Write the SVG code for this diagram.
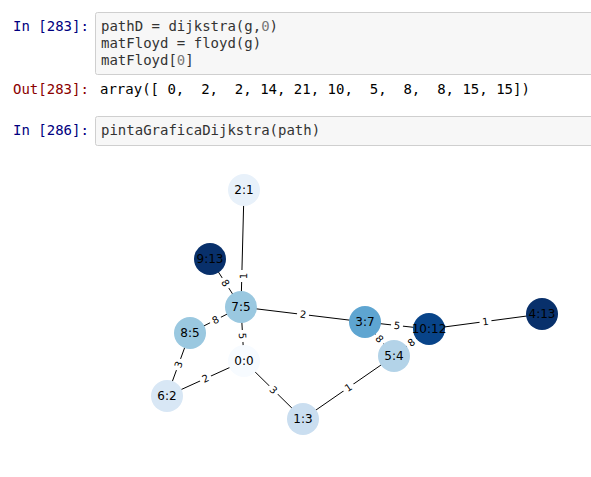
<svg xmlns="http://www.w3.org/2000/svg" width="591" height="477" viewBox="0 0 591 477">
<style>
.mono{font-family:"DejaVu Sans Mono","Liberation Mono",monospace;font-size:14px}
.pin{fill:#000080}
.pout{fill:#8b0000}
.code{fill:#333}
.num{fill:#777}
.box{fill:#f7f7f7;stroke:#cfcfcf;stroke-width:1}
.edge{stroke:#000;stroke-width:1;fill:none}
.nl{font-family:"DejaVu Sans",sans-serif;font-size:12px;fill:#000;text-anchor:middle;dominant-baseline:central}
.el{font-family:"DejaVu Sans",sans-serif;font-size:10px;fill:#000;text-anchor:middle;dominant-baseline:central}
.eb{fill:#fff}
</style>
<rect width="591" height="477" fill="#fff"/>
<g id="cell1">
<text class="mono pin" x="13" y="31">In [283]:</text>
<rect class="box" x="95.5" y="12.5" width="510" height="62" rx="2"/>
<text class="mono code" x="101" y="31">pathD = dijkstra(g,<tspan class="num">0</tspan>)</text>
<text class="mono code" x="101" y="48">matFloyd = floyd(g)</text>
<text class="mono code" x="101" y="65">matFloyd[<tspan class="num">0</tspan>]</text>
</g>
<g id="out1">
<text class="mono pout" x="13" y="94">Out[283]:</text>
<text class="mono" x="100" y="94" fill="#000" xml:space="preserve">array([ 0,  2,  2, 14, 21, 10,  5,  8,  8, 15, 15])</text>
</g>
<g id="cell2">
<text class="mono pin" x="13" y="135">In [286]:</text>
<rect class="box" x="95.5" y="116.5" width="510" height="29" rx="2"/>
<text class="mono code" x="101" y="135">pintaGraficaDijkstra(path)</text>
</g>
<g id="edges">
<line class="edge" x1="244" y1="190" x2="241" y2="307"/>
<line class="edge" x1="210" y1="259" x2="241" y2="307"/>
<line class="edge" x1="241" y1="307" x2="190" y2="333"/>
<line class="edge" x1="241" y1="307" x2="244" y2="361"/>
<line class="edge" x1="241" y1="307" x2="365" y2="322"/>
<line class="edge" x1="190" y1="333" x2="167" y2="396"/>
<line class="edge" x1="167" y1="396" x2="244" y2="361"/>
<line class="edge" x1="244" y1="361" x2="303" y2="419"/>
<line class="edge" x1="303" y1="419" x2="394" y2="356"/>
<line class="edge" x1="365" y1="322" x2="429" y2="329"/>
<line class="edge" x1="365" y1="322" x2="394" y2="356"/>
<line class="edge" x1="394" y1="356" x2="429" y2="329"/>
<line class="edge" x1="429" y1="329" x2="542" y2="314"/>
<g transform="translate(243.5,276) rotate(-88.5)"><rect class="eb" x="-6" y="-7" width="12" height="14" rx="3"/><text class="el">1</text></g>
<g transform="translate(225.5,283) rotate(57)"><rect class="eb" x="-6" y="-7" width="12" height="14" rx="3"/><text class="el">8</text></g>
<g transform="translate(215.5,320) rotate(-27)"><rect class="eb" x="-6" y="-7" width="12" height="14" rx="3"/><text class="el">8</text></g>
<g transform="translate(242.5,336) rotate(86.8)"><rect class="eb" x="-6" y="-7" width="12" height="14" rx="3"/><text class="el">5</text></g>
<g transform="translate(303,314.5) rotate(6.9)"><rect class="eb" x="-6" y="-7" width="12" height="14" rx="3"/><text class="el">2</text></g>
<g transform="translate(178.5,364.5) rotate(-70)"><rect class="eb" x="-6" y="-7" width="12" height="14" rx="3"/><text class="el">3</text></g>
<g transform="translate(205.5,378.5) rotate(-24.4)"><rect class="eb" x="-6" y="-7" width="12" height="14" rx="3"/><text class="el">2</text></g>
<g transform="translate(273.5,390) rotate(44.5)"><rect class="eb" x="-6" y="-7" width="12" height="14" rx="3"/><text class="el">3</text></g>
<g transform="translate(348.5,387.5) rotate(-34.7)"><rect class="eb" x="-6" y="-7" width="12" height="14" rx="3"/><text class="el">1</text></g>
<g transform="translate(397,325.5) rotate(6.2)"><rect class="eb" x="-6" y="-7" width="12" height="14" rx="3"/><text class="el">5</text></g>
<g transform="translate(379.5,339) rotate(49.5)"><rect class="eb" x="-6" y="-7" width="12" height="14" rx="3"/><text class="el">8</text></g>
<g transform="translate(411.5,342.5) rotate(-37.6)"><rect class="eb" x="-6" y="-7" width="12" height="14" rx="3"/><text class="el">8</text></g>
<g transform="translate(485.5,321.5) rotate(-7.6)"><rect class="eb" x="-6" y="-7" width="12" height="14" rx="3"/><text class="el">1</text></g>
</g>
<g id="n2"><circle cx="244" cy="190" r="16" fill="#e8f1fa"/><text class="nl" x="244" y="190">2:1</text></g>
<g id="n9"><circle cx="210" cy="259" r="16" fill="#08306b"/><text class="nl" x="210" y="259">9:13</text></g>
<g id="n7"><circle cx="241" cy="307" r="16" fill="#9ac8e0"/><text class="nl" x="241" y="307">7:5</text></g>
<g id="n8"><circle cx="190" cy="333" r="16" fill="#9ac8e0"/><text class="nl" x="190" y="333">8:5</text></g>
<g id="n0"><circle cx="244" cy="361" r="16" fill="#f7fbff"/><text class="nl" x="244" y="361">0:0</text></g>
<g id="n6"><circle cx="167" cy="396" r="16" fill="#d8e7f5"/><text class="nl" x="167" y="396">6:2</text></g>
<g id="n1"><circle cx="303" cy="419" r="16" fill="#cadef0"/><text class="nl" x="303" y="419">1:3</text></g>
<g id="n3"><circle cx="365" cy="322" r="16" fill="#5ea5d1"/><text class="nl" x="365" y="322">3:7</text></g>
<g id="n5"><circle cx="394" cy="356" r="16" fill="#b3d3e8"/><text class="nl" x="394" y="356">5:4</text></g>
<g id="n10"><circle cx="429" cy="329" r="16" fill="#084489"/><text class="nl" x="429" y="329">10:12</text></g>
<g id="n4"><circle cx="542" cy="314" r="16" fill="#08306b"/><text class="nl" x="542" y="314">4:13</text></g>
</svg>
